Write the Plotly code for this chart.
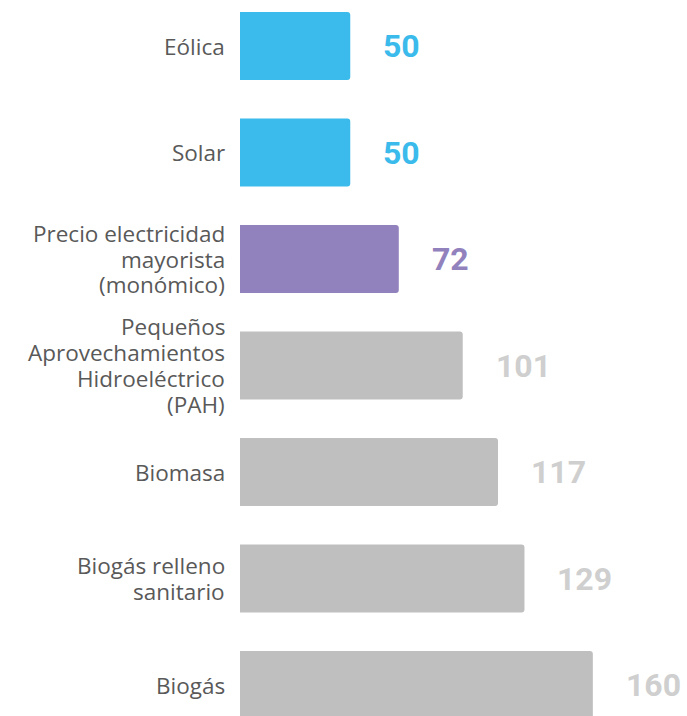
import plotly.graph_objects as go

categories = [
    "Eólica",
    "Solar",
    "Precio electricidad<br>mayorista<br>(monómico)",
    "Pequeños<br>Aprovechamientos<br>Hidroeléctrico<br>(PAH)",
    "Biomasa",
    "Biogás relleno<br>sanitario",
    "Biogás",
]
values = [50, 50, 72, 101, 117, 129, 160]
bar_colors = ["#3BBBEB", "#3BBBEB", "#9181BD", "#BFBFBF", "#BFBFBF", "#BFBFBF", "#BFBFBF"]
label_colors = ["#3BBBEB", "#3BBBEB", "#9181BD", "#CFCFCF", "#CFCFCF", "#CFCFCF", "#CFCFCF"]

fig = go.Figure(
    go.Bar(
        x=values,
        y=categories,
        orientation="h",
        marker=dict(color=bar_colors, line=dict(width=0), cornerradius=3),
        width=0.64,
        hoverinfo="skip",
    )
)

# value labels
for c, v, col in zip(categories, values, label_colors):
    fig.add_annotation(
        x=v, y=c, text=f"<b>{v}</b>", showarrow=False,
        xanchor="left", yanchor="middle", xshift=31,
        font=dict(family="Roboto", size=32, color=col),
    )

# category labels (one annotation per line for tighter line spacing)
LINE = 25.7
for c in categories:
    lines = c.split("<br>")
    n = len(lines)
    for i, ln in enumerate(lines):
        fig.add_annotation(
            x=0, y=c, text=ln, showarrow=False,
            xanchor="right", yanchor="middle", xshift=-13,
            yshift=-(i - (n - 1) / 2) * LINE,
            font=dict(family="Open Sans", size=22.5, color="#595959"),
        )

fig.update_layout(
    width=687, height=716,
    margin=dict(l=240, r=0, t=0, b=0),
    paper_bgcolor="white", plot_bgcolor="white",
    showlegend=False,
)
fig.update_xaxes(range=[0, 202.7], visible=False, fixedrange=True)
fig.update_yaxes(
    range=[6.291, -0.432], showgrid=False, zeroline=False, showline=False,
    ticks="", showticklabels=False, fixedrange=True,
)

fig.write_html("out.html")
